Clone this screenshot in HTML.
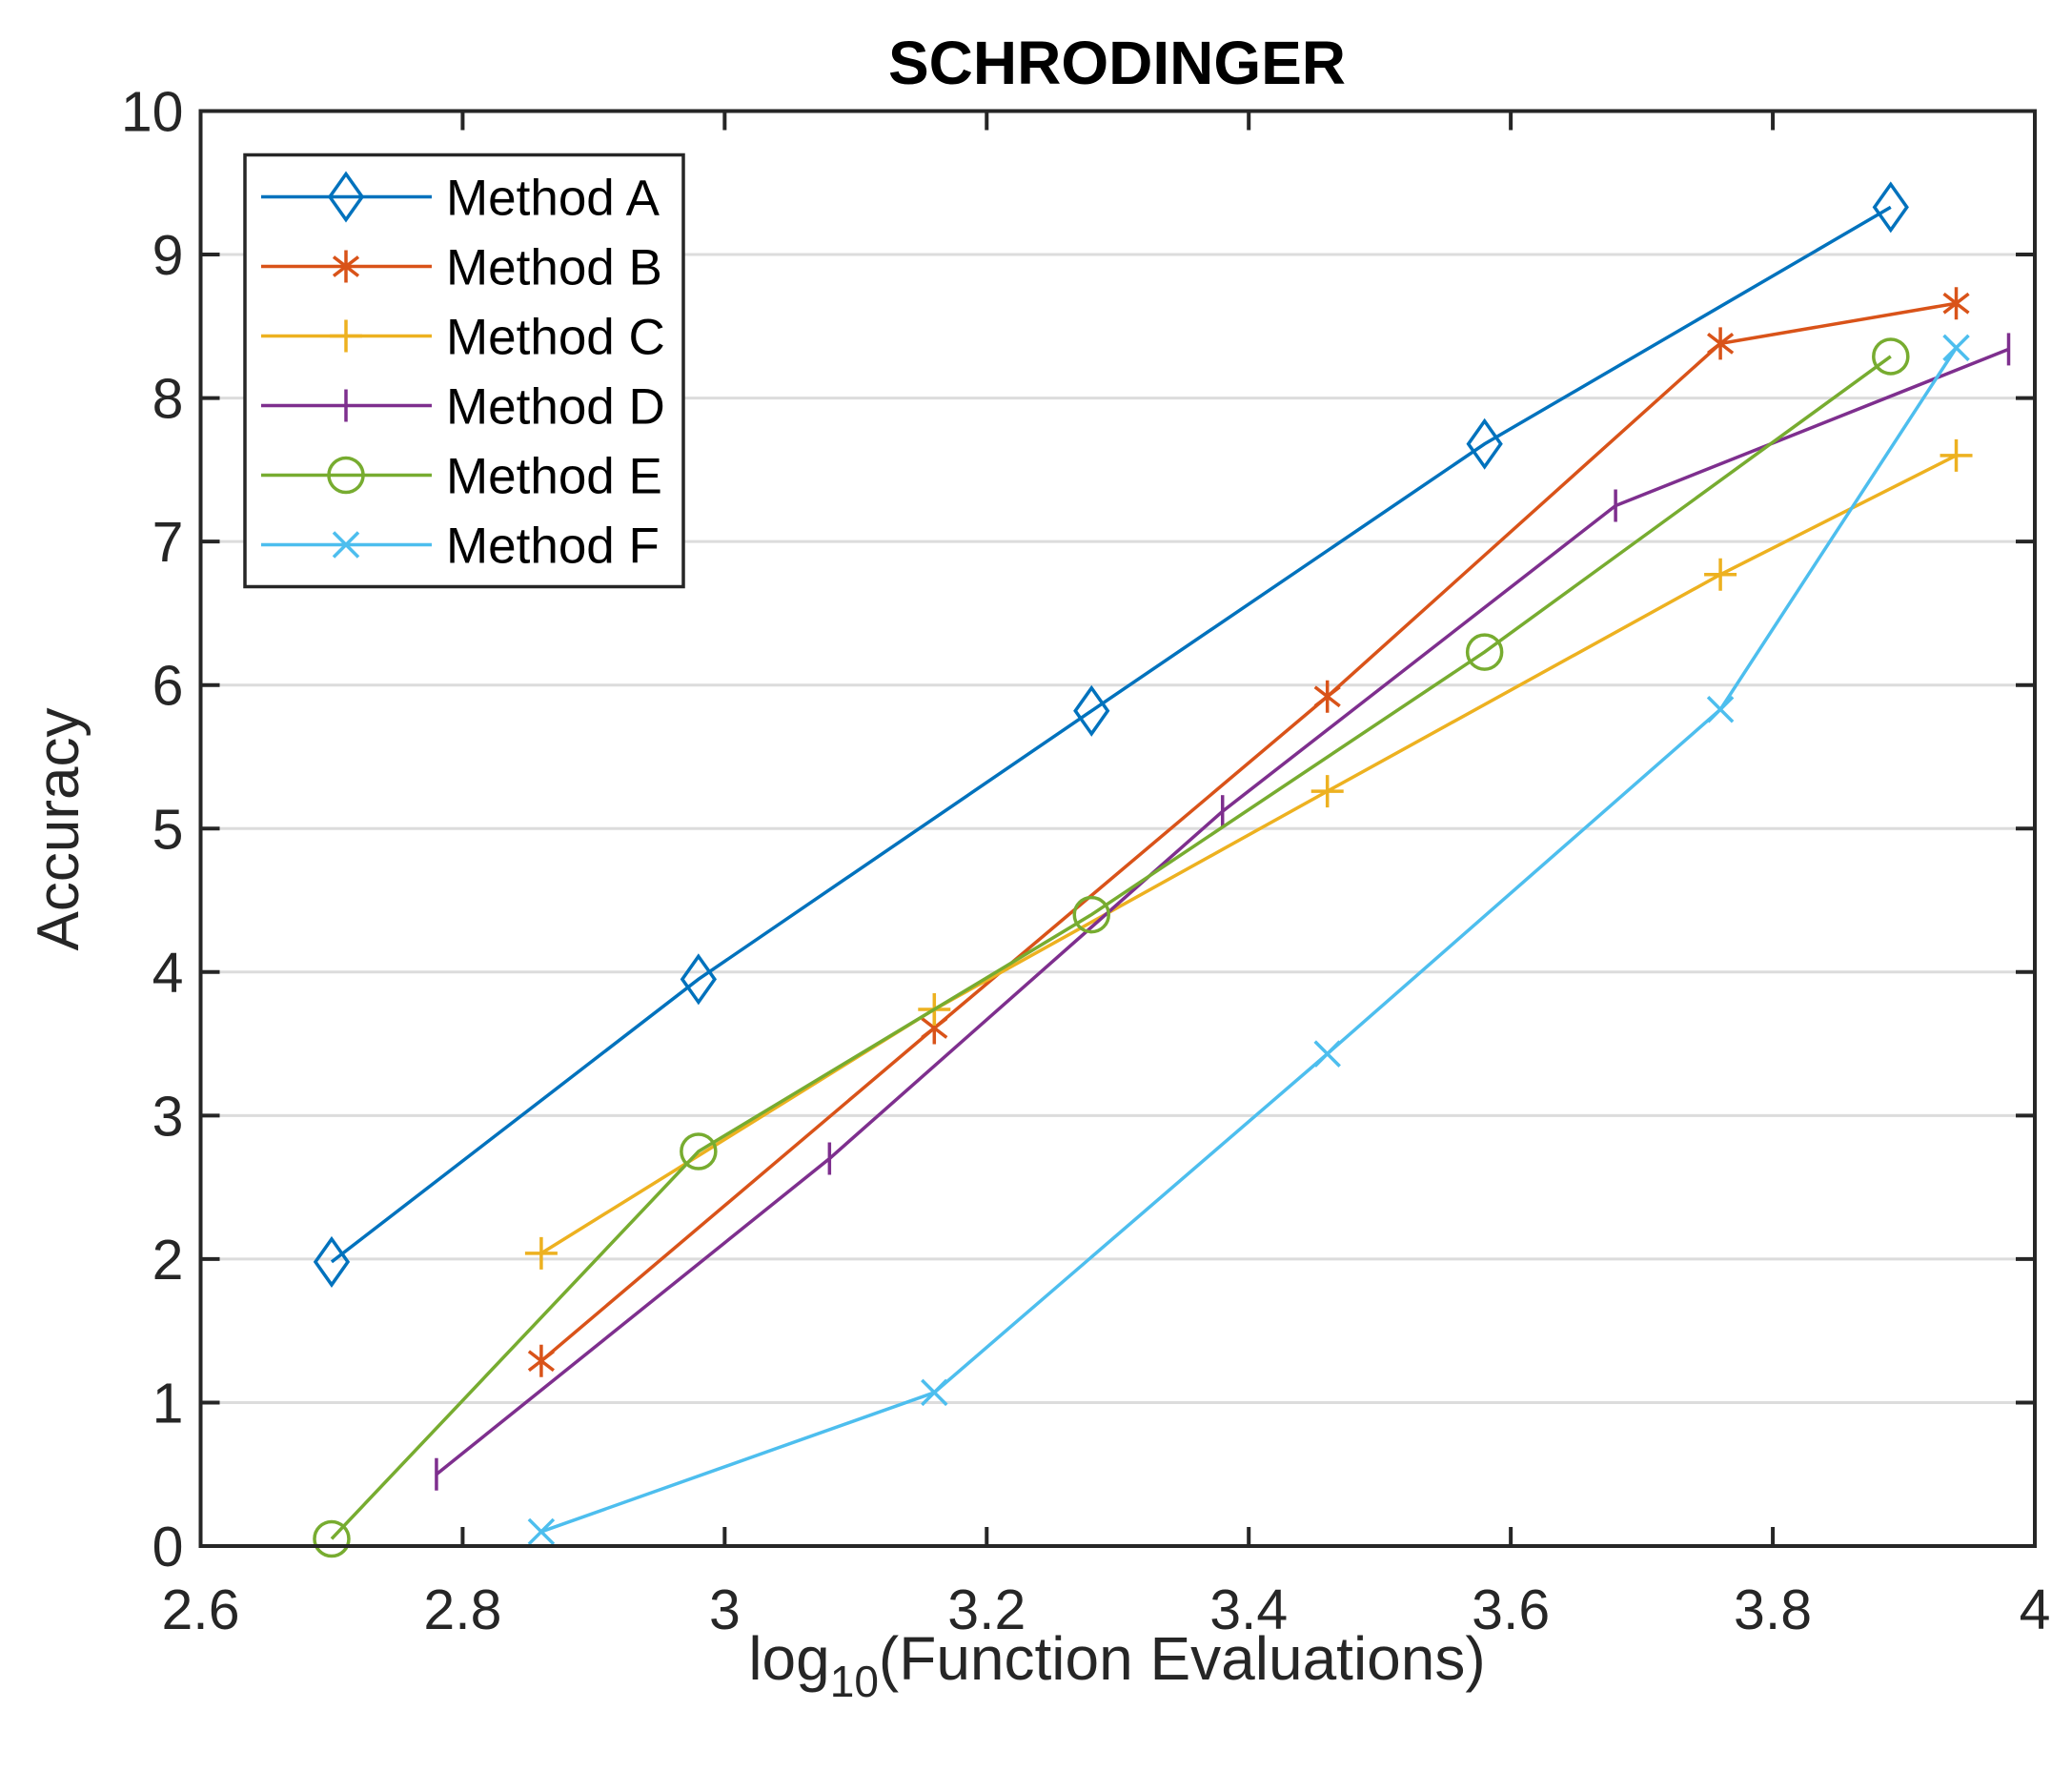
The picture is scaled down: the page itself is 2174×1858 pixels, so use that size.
<!DOCTYPE html>
<html><head><meta charset="utf-8"><style>
html,body{margin:0;padding:0;background:#fff;}
svg{display:block;font-family:"Liberation Sans",Arial,sans-serif;}
</style></head><body>
<svg id="chart" width="2174" height="1858" viewBox="0 0 2174 1858" xmlns="http://www.w3.org/2000/svg">
<rect width="2174" height="1858" fill="#fff"/>
<g id="grid"></g>
<g id="series"></g>
<g id="axes"></g>
<text x="1172" y="88" text-anchor="middle" font-size="64" font-weight="bold" fill="#000">SCHRODINGER</text>
<text x="1172" y="1762" text-anchor="middle" font-size="64" fill="#262626">log<tspan font-size="46" dy="18">10</tspan><tspan dy="-18">(Function Evaluations)</tspan></text>
<text transform="translate(82,870) rotate(-90)" text-anchor="middle" font-size="62" fill="#262626">Accuracy</text>
<g id="legend"></g>
</svg>
<script>
const xTicks=[2.6,2.8,3,3.2,3.4,3.6,3.8,4];
const xTickLabels=["2.6","2.8","3","3.2","3.4","3.6","3.8","4"];
const yTicks=[0,1,2,3,4,5,6,7,8,9,10];
const yTickLabels=["0","1","2","3","4","5","6","7","8","9","10"];
const seriesNames=["Method A","Method B","Method C","Method D","Method E","Method F"];
const xA=[2.70,2.98,3.28,3.58,3.89];
const yA=[1.98,3.95,5.82,7.68,9.33];
const xB=[2.86,3.16,3.46,3.76,3.94];
const yB=[1.29,3.61,5.92,8.38,8.66];
const xC=[2.86,3.16,3.46,3.76,3.94];
const yC=[2.04,3.74,5.26,6.77,7.60];
const xD=[2.78,3.08,3.38,3.68,3.98];
const yD=[0.50,2.70,5.12,7.25,8.34];
const xE=[2.70,2.98,3.28,3.58,3.89];
const yE=[0.05,2.75,4.40,6.23,8.29];
const xF=[2.86,3.16,3.46,3.76,3.94];
const yF=[0.10,1.07,3.43,5.83,8.35];

const NS="http://www.w3.org/2000/svg";
const L=210.5,R=2135,T=116.5,B=1622;
const sx=v=>L+(v-2.6)/(4-2.6)*(R-L);
const sy=v=>B-(v-0)/(10-0)*(B-T);
function mk(tag,attrs,parent){const e=document.createElementNS(NS,tag);for(const k in attrs)e.setAttribute(k,attrs[k]);parent.appendChild(e);return e;}
const grid=document.getElementById('grid'),axes=document.getElementById('axes'),ser=document.getElementById('series'),leg=document.getElementById('legend');

yTicks.forEach((v,i)=>{
  if(v>0&&v<10){const g=mk('line',{x1:L,x2:R,y1:sy(v),y2:sy(v),stroke:'#dcdcdc','stroke-width':3},grid);
  
  }
  const t1=mk('line',{x1:L,x2:L+20,y1:sy(v),y2:sy(v),stroke:'#262626','stroke-width':4},axes);
  
  
  const t2=mk('line',{x1:R,x2:R-20,y1:sy(v),y2:sy(v),stroke:'#262626','stroke-width':4},axes);
  
  
  const tx=mk('text',{x:L-18,y:sy(v)+21,'text-anchor':'end','font-size':59,fill:'#262626'},axes);
  tx.textContent=yTickLabels[i];
  
  
});
xTicks.forEach((v,i)=>{
  const t1=mk('line',{x1:sx(v),x2:sx(v),y1:B,y2:B-20,stroke:'#262626','stroke-width':4},axes);
  
  
  const t2=mk('line',{x1:sx(v),x2:sx(v),y1:T,y2:T+20,stroke:'#262626','stroke-width':4},axes);
  
  
  const tx=mk('text',{x:sx(v),y:B+87,'text-anchor':'middle','font-size':59,fill:'#262626'},axes);
  tx.textContent=xTickLabels[i];
  
  
});
const frame=mk('rect',{x:L,y:T,width:R-L,height:B-T,fill:'none',stroke:'#262626','stroke-width':4},axes);



const colors=['#0072bd','#d95319','#edb120','#7e2f8e','#77ac30','#4dbeee'];
const markers=['diamond','star','plus','vbar','circle','x'];
const xs=[xA,xB,xC,xD,xE,xF],ys=[yA,yB,yC,yD,yE,yF];
function marker(type,cx,cy,c,parent){
  const st={stroke:c,'stroke-width':3.5,fill:'none'};
  let e;
  if(type==='diamond')e=mk('polygon',Object.assign({points:`${cx},${cy-24} ${cx+17},${cy} ${cx},${cy+24} ${cx-17},${cy}`},st),parent);
  else if(type==='circle')e=mk('circle',Object.assign({cx,cy,r:18},st),parent);
  else {let d='';
    if(type==='star')d=`M${cx} ${cy-17}V${cy+17}M${cx-13} ${cy-10}L${cx+13} ${cy+10}M${cx-13} ${cy+10}L${cx+13} ${cy-10}`;
    if(type==='plus')d=`M${cx} ${cy-17}V${cy+17}M${cx-17} ${cy}H${cx+17}`;
    if(type==='vbar')d=`M${cx} ${cy-17}V${cy+17}`;
    if(type==='x')d=`M${cx-13} ${cy-13}L${cx+13} ${cy+13}M${cx-13} ${cy+13}L${cx+13} ${cy-13}`;
    e=mk('path',Object.assign({d},st),parent);}
  return e;
}
xs.forEach((xv,s)=>{
  const g=mk('g',{},ser);
  
  
  const pts=xv.map((x,i)=>sx(x)+','+sy(ys[s][i])).join(' ');
  const pl=mk('polyline',{points:pts,fill:'none',stroke:colors[s],'stroke-width':3.5},g);
  
  
  xv.forEach((x,i)=>{const m=marker(markers[s],sx(x),sy(ys[s][i]),colors[s],g);
    
    });
});

const lb=mk('rect',{x:257,y:162.5,width:460,height:453,fill:'#fff',stroke:'#262626','stroke-width':3.5},leg);


seriesNames.forEach((n,s)=>{
  const y=206.5+s*73;
  const g=mk('g',{},leg);
  
  
  mk('line',{x1:274,x2:453,y1:y,y2:y,stroke:colors[s],'stroke-width':3.5},g);
  marker(markers[s],363,y,colors[s],g);
  const t=mk('text',{x:468,y:y+19,'font-size':53,fill:'#000'},g);
  t.textContent=n;
});
</script>
</body></html>
